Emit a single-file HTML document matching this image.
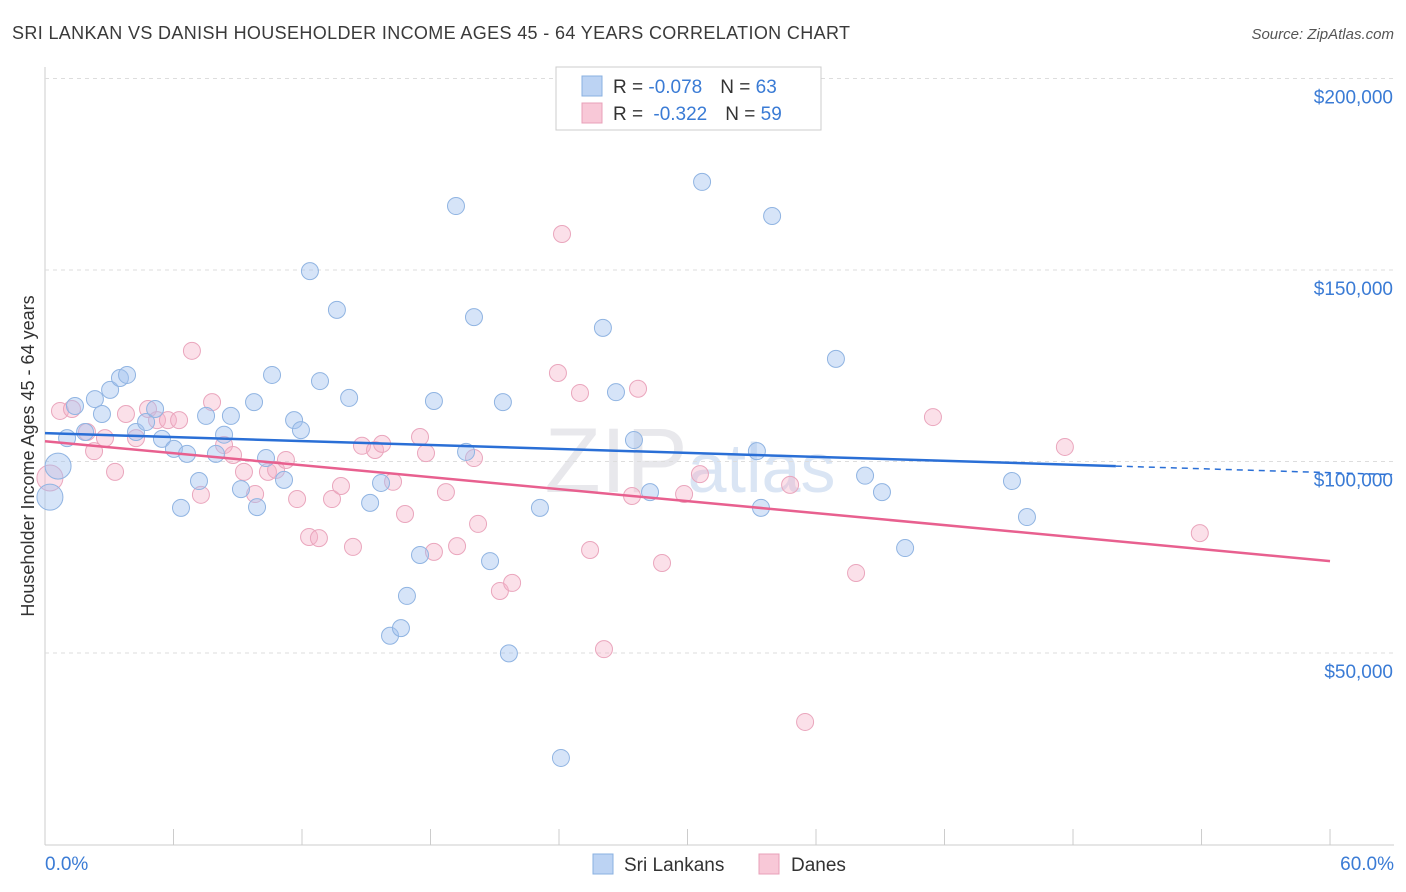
<!DOCTYPE html>
<html><head><meta charset="utf-8">
<style>
body{margin:0;background:#fff;font-family:"Liberation Sans",sans-serif;}
#wrap{position:relative;width:1406px;height:892px;overflow:hidden;}
svg text{font-family:"Liberation Sans",sans-serif;}
</style></head>
<body>
<div id="wrap">
<svg id="chart" width="1406" height="892">
<text x="12" y="39" font-size="18" fill="#3a3a3a" textLength="838" lengthAdjust="spacing">SRI LANKAN VS DANISH HOUSEHOLDER INCOME AGES 45 - 64 YEARS CORRELATION CHART</text>
<text x="1394" y="39" font-size="15" fill="#555" font-style="italic" text-anchor="end">Source: ZipAtlas.com</text>
<text x="690" y="492" font-size="92" fill="#e8e8ec" text-anchor="middle" font-family="Liberation Serif">ZIP<tspan fill="#dae5f4" font-family="Liberation Sans" font-size="70">atlas</tspan></text>
<text transform="translate(34,456) rotate(-90)" font-size="18" fill="#333" text-anchor="middle">Householder Income Ages 45 - 64 years</text>
<g id="grid"></g><g id="marks"></g>
<g>
<rect x="556" y="67" width="265" height="63" fill="#fff" stroke="#ccc"/>
<rect x="582" y="76" width="20" height="20" fill="#bcd3f3" stroke="#8ab0e0"/>
<rect x="582" y="103" width="20" height="20" fill="#f8c8d7" stroke="#e8a0b8"/>
<text x="613" y="93" font-size="19" fill="#333">R = <tspan fill="#3a7bd5">-0.078</tspan><tspan dx="18">N = </tspan><tspan fill="#3a7bd5">63</tspan></text>
<text x="613" y="120" font-size="19" fill="#333">R = <tspan dx="5" fill="#3a7bd5">-0.322</tspan><tspan dx="18">N = </tspan><tspan fill="#3a7bd5">59</tspan></text>
</g>
<g>
<rect x="593" y="854" width="20" height="20" fill="#bcd3f3" stroke="#8ab0e0"/>
<text x="624" y="871" font-size="19" fill="#333">Sri Lankans</text>
<rect x="759" y="854" width="20" height="20" fill="#f8c8d7" stroke="#e8a0b8"/>
<text x="791" y="871" font-size="19" fill="#333">Danes</text>
</g>
<text x="45" y="870" font-size="19" fill="#3a7bd5">0.0%</text>
<text x="1394" y="870" font-size="19" fill="#3a7bd5" text-anchor="end">60.0%</text>
</svg>
</div>
<script>
const blueX=[.23,.61,1.03,1.4,1.87,2.33,2.66,3.04,3.5,3.83,4.25,4.72,5.14,5.46,6.02,6.35,6.63,7.19,7.52,7.98,8.36,8.68,9.15,9.76,9.9,10.32,10.6,11.16,11.63,11.95,12.37,12.84,13.63,14.2,15.18,15.69,16.11,16.62,16.9,17.51,18.16,19.19,19.66,20.03,20.78,21.38,21.66,23.11,24.09,26.05,26.66,27.5,28.25,30.68,33.24,33.43,33.95,36.93,38.29,39.08,40.16,45.15,45.85];
const blueY=[90.7,98.8,106.1,114.5,107.7,116.3,112.4,118.7,121.8,122.6,107.7,110.3,113.7,105.9,103.3,87.9,102.0,94.9,111.9,102.0,107.0,111.9,92.8,115.5,88.1,100.9,122.6,95.2,110.8,108.2,149.7,121.0,139.6,116.6,89.2,94.4,54.5,56.5,64.9,75.6,115.8,166.7,102.5,137.7,74.0,115.5,49.9,87.9,22.6,134.9,118.1,105.6,92.0,173.0,102.7,87.9,164.1,126.8,96.3,92.0,77.4,94.9,85.5];
const pinkX=[.23,.7,1.26,1.96,2.29,2.8,3.27,3.78,4.25,4.81,5.23,5.74,6.26,6.86,7.28,7.8,8.36,8.78,9.29,9.81,10.41,10.79,11.25,11.77,12.33,12.79,13.4,13.82,14.38,14.8,15.41,15.74,16.25,16.81,17.51,17.79,18.16,18.72,19.24,20.03,20.22,21.24,21.81,23.95,24.14,24.98,25.45,26.1,27.41,27.69,28.81,29.84,30.58,34.79,35.49,37.87,41.46,47.62,53.92];
const pinkY=[95.7,113.2,113.7,107.7,102.7,106.1,97.3,112.4,106.1,113.7,110.8,110.8,110.8,128.9,91.3,115.5,104.3,101.7,97.3,91.5,97.3,97.8,100.4,90.2,80.3,80.0,90.2,93.6,77.7,104.1,103.0,104.6,94.7,86.3,106.4,102.2,76.4,92.0,77.9,100.9,83.7,66.2,68.3,123.1,159.4,117.9,76.9,51.0,91.0,119.0,73.5,91.5,96.7,93.9,32.0,70.9,111.6,103.8,81.3];
const yTicks=[50,100,150,200];
const yTickLabels=["$50,000","$100,000","$150,000","$200,000"];
const blueTrend=[107.4,98.8]; // at 0% and 50%
const pinkTrend=[105.3,74.0]; // at 0% and 60%

const NS="http://www.w3.org/2000/svg";
const xs=v=>45+v*21.417;
const ys=v=>844.5-v*3.83;
function mk(tag,attrs,parent){const e=document.createElementNS(NS,tag);for(const k in attrs)e.setAttribute(k,attrs[k]);parent.appendChild(e);return e;}
const grid=document.getElementById('grid'),marks=document.getElementById('marks');
let ax=mk('line',{x1:45,y1:67,x2:45,y2:845,stroke:'#ccc'},grid);


let bx=mk('line',{x1:45,y1:845,x2:1394,y2:845,stroke:'#ccc'},grid);


for(let i=0;i<=10;i++){const t=mk('line',{x1:xs(i*6),x2:xs(i*6),y1:829,y2:845,stroke:'#ccc'},grid);

}
yTicks.forEach((v,i)=>{const g=mk('line',{x1:45,x2:1394,y1:ys(v),y2:ys(v),stroke:'#ddd','stroke-dasharray':'4,4'},grid);


const t=mk('text',{x:1393,y:ys(v)+25,'font-size':19,fill:'#3a7bd5','text-anchor':'end'},grid);t.textContent=yTickLabels[i];

});
function dots(X,Y,fill,stroke,name){X.forEach((x,i)=>{const big=i===0||(name==='sri-lankan-point'&&i===1);
const c=mk('circle',{cx:xs(x),cy:ys(Y[i]),r:big?13:8.5,fill:fill,stroke:stroke,'stroke-width':1},marks);

});}
dots(pinkX,pinkY,'rgba(245,178,200,0.4)','#eaa6bd','dane-point');
dots(blueX,blueY,'rgba(164,196,240,0.45)','#90b4e2','sri-lankan-point');
const bs=(blueTrend[1]-blueTrend[0])/50;
let l1=mk('line',{x1:xs(0),y1:ys(blueTrend[0]),x2:xs(50),y2:ys(blueTrend[1]),stroke:'#2a6fd6','stroke-width':2.5},marks);


let l2=mk('line',{x1:xs(50),y1:ys(blueTrend[1]),x2:xs(62.9),y2:ys(blueTrend[0]+bs*62.9),stroke:'#2a6fd6','stroke-width':1.5,'stroke-dasharray':'6,5'},marks);


let l3=mk('line',{x1:xs(0),y1:ys(pinkTrend[0]),x2:xs(60),y2:ys(pinkTrend[1]),stroke:'#e8608f','stroke-width':2.5},marks);


</script>
</body></html>
